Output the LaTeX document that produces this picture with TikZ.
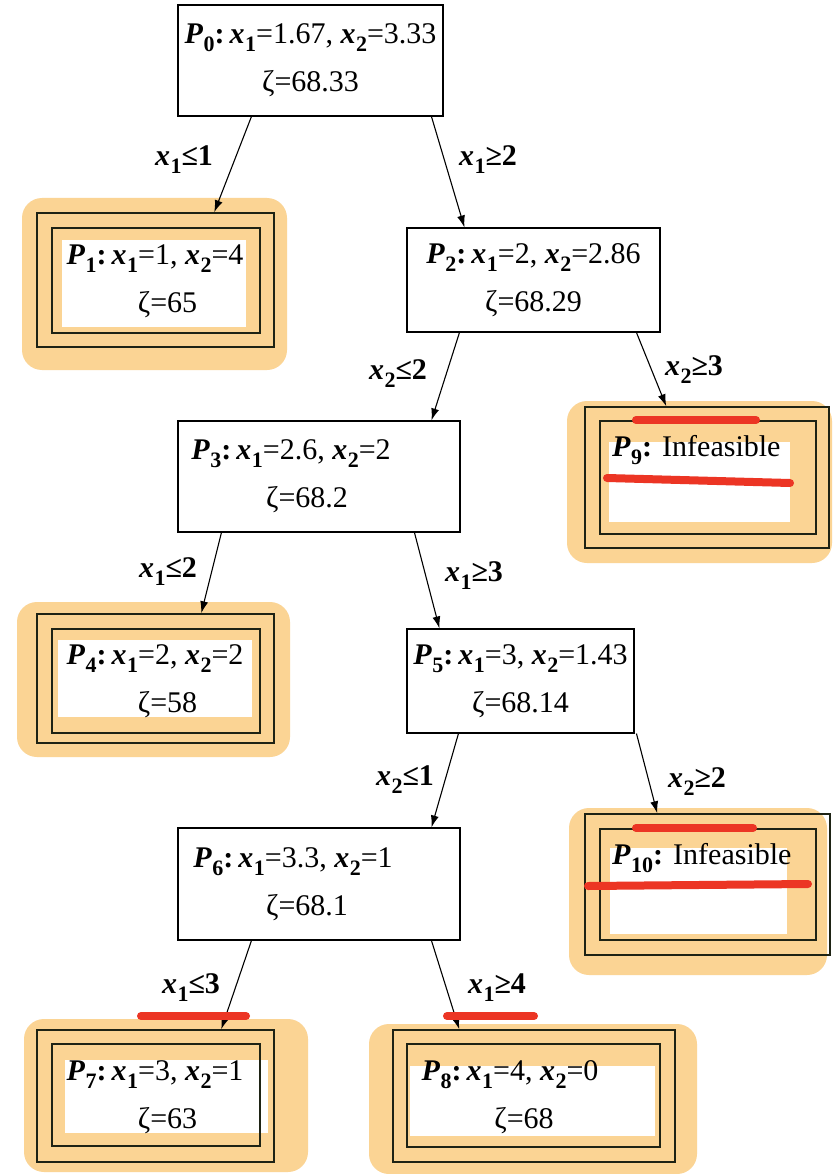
\documentclass[tikz,border=0pt]{standalone}
\usepackage{fontspec}
\setmainfont{Liberation Serif}
\usetikzlibrary{arrows.meta}
\definecolor{leaforange}{RGB}{251,212,148}
\definecolor{leafline}{RGB}{30,35,20}
\definecolor{strike}{RGB}{236,53,36}
\newcommand\Pn[1]{\textbf{\textit{P}}\kern0.5pt\lower8pt\hbox{\fontsize{22}{22}\selectfont\bfseries #1}\textbf{:}\,}
\newcommand\xv[1]{\textbf{\textit{x}}\kern0.5pt\lower8pt\hbox{\fontsize{22}{22}\selectfont\bfseries #1}}
\newcommand\lbl[3]{\textbf{\textit{x}}\kern0.5pt\lower8pt\hbox{\fontsize{22}{22}\selectfont\bfseries #1}\textbf{#2#3}}
\newcommand\shl[2]{\hspace*{-#1pt}#2\hspace*{#1pt}}
\tikzset{
  x=1pt, y=-1pt,
  probbox/.style={draw=black, line width=1.1pt, fill=white, inner sep=0pt, align=center,
    font=\fontsize{30}{48}\selectfont},
  leafrect/.style={draw=leafline, line width=1.5pt, inner sep=0pt},
  innerrect/.style={draw=leafline, line width=1.5pt},
  halo/.style={fill=leaforange, rounded corners=20pt},
  whitearea/.style={fill=white},
  leaftext/.style={align=center, inner sep=0pt, font=\fontsize{30}{48}\selectfont},
  brlabel/.style={inner sep=0pt, font=\fontsize{30}{34}\selectfont},
  arr/.style={-{Latex[length=12pt,width=8pt]}, line width=1.1pt},
  redline/.style={draw=strike, line width=8pt, line cap=round}
}
\begin{document}
\begin{tikzpicture}
\useasboundingbox (0,0) rectangle (834,1174);
\fill[white] (0,0) rectangle (834,1174);

% ---- interior nodes
\node[probbox, minimum width=265, minimum height=111] (P0) at (310.5,60.5)
  {\Pn{0}\xv{1}=1.67, \xv{2}=3.33\\ ζ=68.33};
\node[probbox, minimum width=253, minimum height=104] (P2) at (533.5,280)
  {\Pn{2}\xv{1}=2, \xv{2}=2.86\\ ζ=68.29};
\node[probbox, minimum width=282, minimum height=111] (P3) at (319,476.5)
  {\shl{28}{\Pn{3}\xv{1}=2.6, \xv{2}=2}\\ \shl{12}{ζ=68.2}};
\node[probbox, minimum width=227, minimum height=104] (P5) at (520.5,681)
  {\Pn{5}\xv{1}=3, \xv{2}=1.43\\ ζ=68.14};
\node[probbox, minimum width=282, minimum height=112] (P6) at (319,884)
  {\shl{26}{\Pn{6}\xv{1}=3.3, \xv{2}=1}\\ \shl{12}{ζ=68.1}};

% ---- leaf P1
\fill[halo] (22,198) rectangle (287,370);
\fill[whitearea] (62,240) rectangle (246,327);
\node[leafrect, minimum width=237, minimum height=134] (P1) at (155.5,280) {};
\draw[innerrect] (52,228) rectangle (260,333);
\node[leaftext] (T1) at (155,281) {\Pn{1}\xv{1}=1, \xv{2}=4\\ \hspace*{25pt}ζ=65};

% ---- leaf P9
\fill[halo] (567,401) rectangle (832,563);
\fill[whitearea] (609,442) rectangle (790,522);
\node[leafrect, minimum width=244, minimum height=141] (P9) at (707,477.5) {};
\draw[innerrect] (600,421) rectangle (816,534);
\node[leaftext, anchor=west] (T9) at (612,450) {\Pn{9}\,Infeasible};

% ---- leaf P4
\fill[halo] (17,602) rectangle (290,757);
\fill[whitearea] (58,640) rectangle (252,717);
\node[leafrect, minimum width=237, minimum height=129] (P4) at (155.5,678.5) {};
\draw[innerrect] (52,629) rectangle (260,733);
\node[leaftext] (T4) at (155,681) {\Pn{4}\xv{1}=2, \xv{2}=2\\ \hspace*{25pt}ζ=58};

% ---- leaf P10
\fill[halo] (569,808) rectangle (827,975);
\fill[whitearea] (610,848) rectangle (787,934);
\node[leafrect, minimum width=245, minimum height=141] (P10) at (707.5,884.5) {};
\draw[innerrect] (600,829) rectangle (816,940);
\node[leaftext, anchor=west] (T10) at (612,858) {\Pn{10}\,Infeasible};

% ---- leaf P7
\fill[halo] (24,1019) rectangle (308,1172);
\fill[whitearea] (65,1060) rectangle (268,1133);
\node[leafrect, minimum width=237, minimum height=132] (P7) at (155.5,1096) {};
\draw[innerrect] (52,1044) rectangle (260,1146);
\node[leaftext] (T7) at (155,1097) {\Pn{7}\xv{1}=3, \xv{2}=1\\ \hspace*{25pt}ζ=63};

% ---- leaf P8
\fill[halo] (369,1024) rectangle (697,1174);
\fill[whitearea] (410,1066) rectangle (655,1136);
\node[leafrect, minimum width=282, minimum height=132] (P8) at (534,1096) {};
\draw[innerrect] (407,1044) rectangle (660,1147);
\node[leaftext] (T8) at (524,1097) {\shl{14}{\Pn{8}\xv{1}=4, \xv{2}=0}\\ ζ=68};

% ---- connectors
\draw[arr] ([xshift=74pt]P0.south west) -- ([xshift=178pt]P1.north west);
\draw[arr] ([xshift=254pt]P0.south west) -- ([xshift=58pt]P2.north west);
\draw[arr] ([xshift=53pt]P2.south west) -- ([xshift=254pt]P3.north west);
\draw[arr] ([xshift=230pt]P2.south west) -- ([xshift=82pt]P9.north west);
\draw[arr] ([xshift=44pt]P3.south west) -- ([xshift=165pt]P4.north west);
\draw[arr] ([xshift=237pt]P3.south west) -- ([xshift=33pt]P5.north west);
\draw[arr] ([xshift=52pt]P5.south west) -- ([xshift=254pt]P6.north west);
\draw[arr] ([xshift=230pt]P5.south west) -- ([xshift=73pt]P10.north west);
\draw[arr] ([xshift=74pt]P6.south west) -- ([xshift=185pt]P7.north west);
\draw[arr] ([xshift=254pt]P6.south west) -- ([xshift=67pt]P8.north west);

% ---- branch labels
\node[brlabel] (L1) at (184,160) {\lbl{1}{≤}{1}};
\node[brlabel] (L2) at (488,160) {\lbl{1}{≥}{2}};
\node[brlabel] (L3) at (398,374) {\lbl{2}{≤}{2}};
\node[brlabel] (L4) at (694,370) {\lbl{2}{≥}{3}};
\node[brlabel] (L5) at (168,572) {\lbl{1}{≤}{2}};
\node[brlabel] (L6) at (474,576) {\lbl{1}{≥}{3}};
\node[brlabel] (L7) at (405,780) {\lbl{2}{≤}{1}};
\node[brlabel] (L8) at (697,782) {\lbl{2}{≥}{2}};
\node[brlabel] (L9) at (191,988) {\lbl{1}{≤}{3}};
\node[brlabel] (L10) at (497,988) {\lbl{1}{≥}{4}};

% ---- red strike marks
\draw[redline] (636,420) -- (756,420);
\draw[redline] (607,478) -- (790,483);
\draw[redline] (636,828) -- (753,828);
\draw[redline] (588,886) -- (808,884);
\draw[redline] (141,1016) -- (246,1016);
\draw[redline] (447,1016) -- (534,1016);
\end{tikzpicture}
\end{document}
